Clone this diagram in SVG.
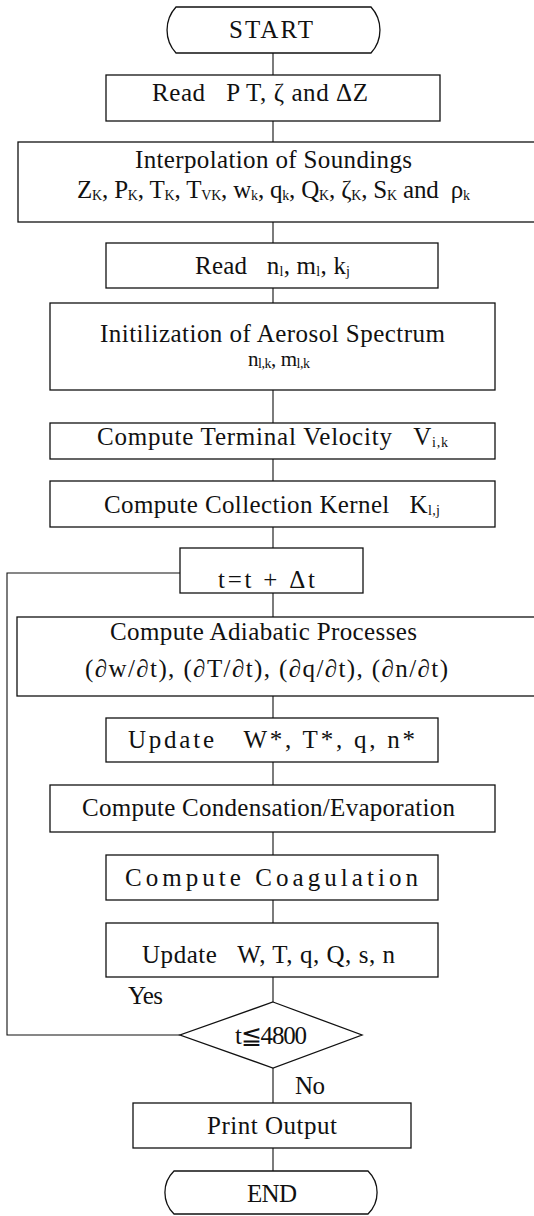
<svg xmlns="http://www.w3.org/2000/svg" width="534" height="1216" viewBox="0 0 534 1216">
<style>
.box{fill:#fff;stroke:#111;stroke-width:1.3}
.con{fill:none;stroke:#111;stroke-width:1.1}
text{font-family:"Liberation Serif","DejaVu Serif",serif;font-size:25px;fill:#111}
.s{font-size:14px}
</style>
<rect width="534" height="1216" fill="#fff"/>
<g id="connectors">
<path class="con" d="M273 53V75M273 121V142M273 222V243M273 288V303M273 390V423M273 459V481M273 527V548M273 593V617M273 696V718M273 762V785M273 832V855M273 900V923M273 977V1002M273 1068V1103M273 1148V1171"/>
<polyline class="con" points="180,1035 7,1035 7,573 180,573"/>
</g>
<g id="start"><path class="box" d="M176 7H371A34 34 0 0 1 371 53H176A34 34 0 0 1 176 7Z"/><text x="229" y="38" textLength="84">START</text></g>
<g id="read1"><rect class="box" x="106" y="75" width="334" height="46"/><text x="152" y="101" textLength="216">Read&#160;&#160; P T, ζ and ΔZ</text></g>
<g id="interp"><rect class="box" x="18" y="142" width="530" height="80"/><text x="135" y="168" textLength="277">Interpolation of Soundings</text>
<text x="77" y="198" textLength="393">Z<tspan class="s" dy="2">K</tspan><tspan dy="-2">, P</tspan><tspan class="s" dy="2">K</tspan><tspan dy="-2">, T</tspan><tspan class="s" dy="2">K</tspan><tspan dy="-2">, T</tspan><tspan class="s" dy="2">VK</tspan><tspan dy="-2">, w</tspan><tspan class="s" dy="2">k</tspan><tspan dy="-2">, q</tspan><tspan class="s" dy="2">k</tspan><tspan dy="-2">, Q</tspan><tspan class="s" dy="2">K</tspan><tspan dy="-2">, ζ</tspan><tspan class="s" dy="2">K</tspan><tspan dy="-2">, S</tspan><tspan class="s" dy="2">K</tspan><tspan dy="-2"> and&#160; ρ</tspan><tspan class="s" dy="2">k</tspan></text></g>
<g id="read2"><rect class="box" x="106" y="243" width="332" height="45"/><text x="195" y="274" textLength="155">Read&#160;&#160; n<tspan class="s" dy="2">l</tspan><tspan dy="-2">, m</tspan><tspan class="s" dy="2">l</tspan><tspan dy="-2">, k</tspan><tspan class="s" dy="2">j</tspan></text></g>
<g id="init"><rect class="box" x="50" y="303" width="445" height="87"/><text x="100" y="342" textLength="345">Initilization of Aerosol Spectrum</text>
<text x="248" y="366" textLength="62" style="font-size:21px">n<tspan class="s" dy="2">l,k</tspan><tspan dy="-2">, m</tspan><tspan class="s" dy="2">l,k</tspan></text></g>
<g id="velocity"><rect class="box" x="50" y="423" width="445" height="36"/><text x="97" y="445" textLength="351">Compute Terminal Velocity&#160;&#160; V<tspan class="s" dy="2">i,k</tspan></text></g>
<g id="kernel"><rect class="box" x="50" y="481" width="445" height="46"/><text x="104" y="513" textLength="336">Compute Collection Kernel&#160;&#160; K<tspan class="s" dy="2">l,j</tspan></text></g>
<g id="step"><rect class="box" x="180" y="548" width="183" height="45"/><text x="218" y="588" textLength="97">t=t + Δt</text></g>
<g id="adiabatic"><rect class="box" x="17" y="617" width="531" height="79"/><text x="110" y="640" textLength="307">Compute Adiabatic Processes</text>
<text x="85" y="677" textLength="363">(∂w/∂t), (∂T/∂t), (∂q/∂t), (∂n/∂t)</text></g>
<g id="update1"><rect class="box" x="106" y="718" width="332" height="44"/><text x="128" y="748" textLength="287">Update&#160;&#160; W*, T*, q, n*</text></g>
<g id="condensation"><rect class="box" x="50" y="785" width="445" height="47"/><text x="82" y="816" textLength="373">Compute Condensation/Evaporation</text></g>
<g id="coagulation"><rect class="box" x="106" y="855" width="332" height="45"/><text x="125" y="886" textLength="293">Compute Coagulation</text></g>
<g id="update2"><rect class="box" x="106" y="923" width="332" height="54"/><text x="142" y="963" textLength="253">Update&#160;&#160; W, T, q, Q, s, n</text></g>
<g id="decision"><polygon class="box" points="273,1002 362,1035 273,1068 180,1035"/><text x="235" y="1044" textLength="72">t≦4800</text></g>
<g id="labels"><text x="128" y="1004" textLength="35">Yes</text><text x="295" y="1094" textLength="30">No</text></g>
<g id="print"><rect class="box" x="133" y="1103" width="278" height="45"/><text x="207" y="1134" textLength="130">Print Output</text></g>
<g id="end"><path class="box" d="M174 1171H368A30 30 0 0 1 368 1214H174A30 30 0 0 1 174 1171Z"/><text x="247" y="1202" textLength="50">END</text></g>
</svg>
